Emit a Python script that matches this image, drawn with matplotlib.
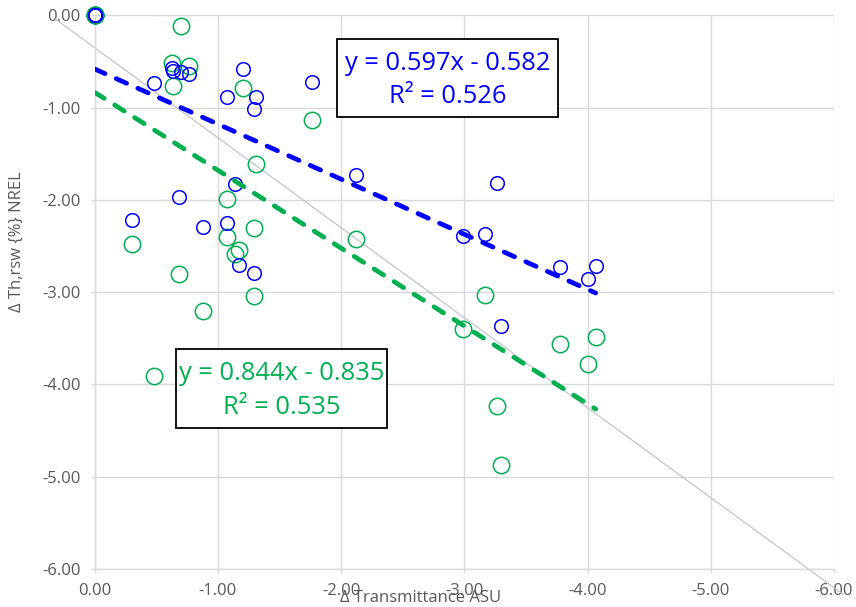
import matplotlib
matplotlib.use("Agg")
import matplotlib.pyplot as plt
import numpy as np
from matplotlib.ticker import FormatStrFormatter, MultipleLocator

plt.rcParams['font.family'] = ['Open Sans', 'DejaVu Sans']

# Change in transmittance measured at ASU (shared by both series)
trans_asu = [0.0, 0.0, 0.0, 0.0, 0.0,
             -0.305, -0.484, -0.628, -0.638, -0.685, -0.702, -0.768, -0.882,
             -1.076, -1.076, -1.136, -1.168, -1.206, -1.307, -1.296, -1.296,
             -1.766, -2.121, -2.987, -3.168, -3.268, -3.296, -3.777, -4.006, -4.066]

# Change in rsw transmittance reported by NREL
th_blue = [0.0, 0.0, 0.0, 0.0, 0.0,
           -2.218, -0.737, -0.568, -0.603, -1.965, -0.611, -0.636, -2.297,
           -0.882, -2.247, -1.831, -2.705, -0.585, -0.882, -1.015, -2.796,
           -0.719, -1.730, -2.391, -2.369, -1.813, -3.363, -2.724, -2.857, -2.713]
th_green = [0.0, 0.0, 0.0, 0.0, 0.0,
            -2.481, -3.908, -0.513, -0.766, -2.806, -0.116, -0.546, -3.200,
            -1.994, -2.399, -2.590, -2.543, -0.791, -1.611, -2.301, -3.038,
            -1.134, -2.427, -3.399, -3.030, -4.233, -4.872, -3.561, -3.781, -3.489]

# Linear trendlines (slope, intercept, R²)
fit_blue = (0.597, -0.582, 0.526)
fit_green = (0.844, -0.835, 0.535)

# Thin reference diagonal
ref_x = [0.33, -6.08]
ref_y = [-0.03, -6.28]

BLUE = '#0000FF'
GREEN = '#00B050'
GRID = '#D9D9D9'
TEXT = '#595959'

fig = plt.figure(figsize=(8.56, 6.07), dpi=100)
ax = fig.add_axes([0.1106, 0.0626, 0.8637, 0.9122])

ax.set_xlim(0, -6)
ax.set_ylim(-6, 0)
ax.xaxis.set_major_locator(MultipleLocator(1))
ax.yaxis.set_major_locator(MultipleLocator(1))
ax.xaxis.set_major_formatter(FormatStrFormatter('%.2f'))
ax.yaxis.set_major_formatter(FormatStrFormatter('%.2f'))
ax.grid(True, color=GRID, linewidth=1.0, zorder=0)
ax.set_axisbelow(True)
for side in ('top', 'right'):
    ax.spines[side].set_visible(False)
for side in ('left', 'bottom'):
    ax.spines[side].set_color(GRID)
    ax.spines[side].set_linewidth(1.0)
ax.tick_params(axis='both', colors=GRID, labelcolor=TEXT, length=3,
               width=1.0, labelsize=12, pad=7)

# Scatter series: green beneath blue
ax.plot(trans_asu, th_green, linestyle='none', marker='o', markersize=11.8,
        markerfacecolor='none', markeredgecolor=GREEN, markeredgewidth=1.1,
        zorder=3, clip_on=False)
ax.plot(trans_asu, th_blue, linestyle='none', marker='o', markersize=9.8,
        markerfacecolor='none', markeredgecolor=BLUE, markeredgewidth=1.1,
        zorder=4, clip_on=False)

# Trendlines over the data range
xmin = min(trans_asu)
xx = np.array([0.0, xmin])
for (m, b, _), col in ((fit_blue, BLUE), (fit_green, GREEN)):
    ax.plot(xx, m * xx + b, color=col, linewidth=3.4, dashes=(2.4, 2.6),
            dash_capstyle='round', zorder=5)

ax.plot(ref_x, ref_y, color='#BFBFBF', linewidth=0.8, clip_on=False, zorder=2)

# Equation boxes
def eq_box(x0, y0, x1, y1, fit, col):
    fig.patches.append(plt.Rectangle((x0 / 856, 1 - y1 / 607),
                                     (x1 - x0) / 856, (y1 - y0) / 607,
                                     transform=fig.transFigure, facecolor='white',
                                     edgecolor='black', linewidth=1.3, zorder=6))
    m, b, r2 = fit
    cx = (x0 + x1) / 2 / 856
    fig.text(cx, 1 - (y0 + 24) / 607, f"y = {m:.3f}x - {abs(b):.3f}",
             color=col, fontsize=18.4, ha='center', va='center', zorder=7)
    fig.text(cx, 1 - (y0 + 58) / 607, f"R² = {r2:.3f}",
             color=col, fontsize=18.4, ha='center', va='center', zorder=7)

eq_box(337, 39, 558, 117, fit_blue, BLUE)
eq_box(176, 349, 387, 428, fit_green, GREEN)

fig.text(421 / 856, 1 - 598 / 607, 'Δ Transmittance ASU', color=TEXT,
         fontsize=12, ha='center', va='center')
fig.text(17 / 856, 1 - 242 / 607, 'Δ Th,rsw {%} NREL', color=TEXT,
         fontsize=12, ha='center', va='center', rotation=90)

fig.savefig('out.png', dpi=100)
